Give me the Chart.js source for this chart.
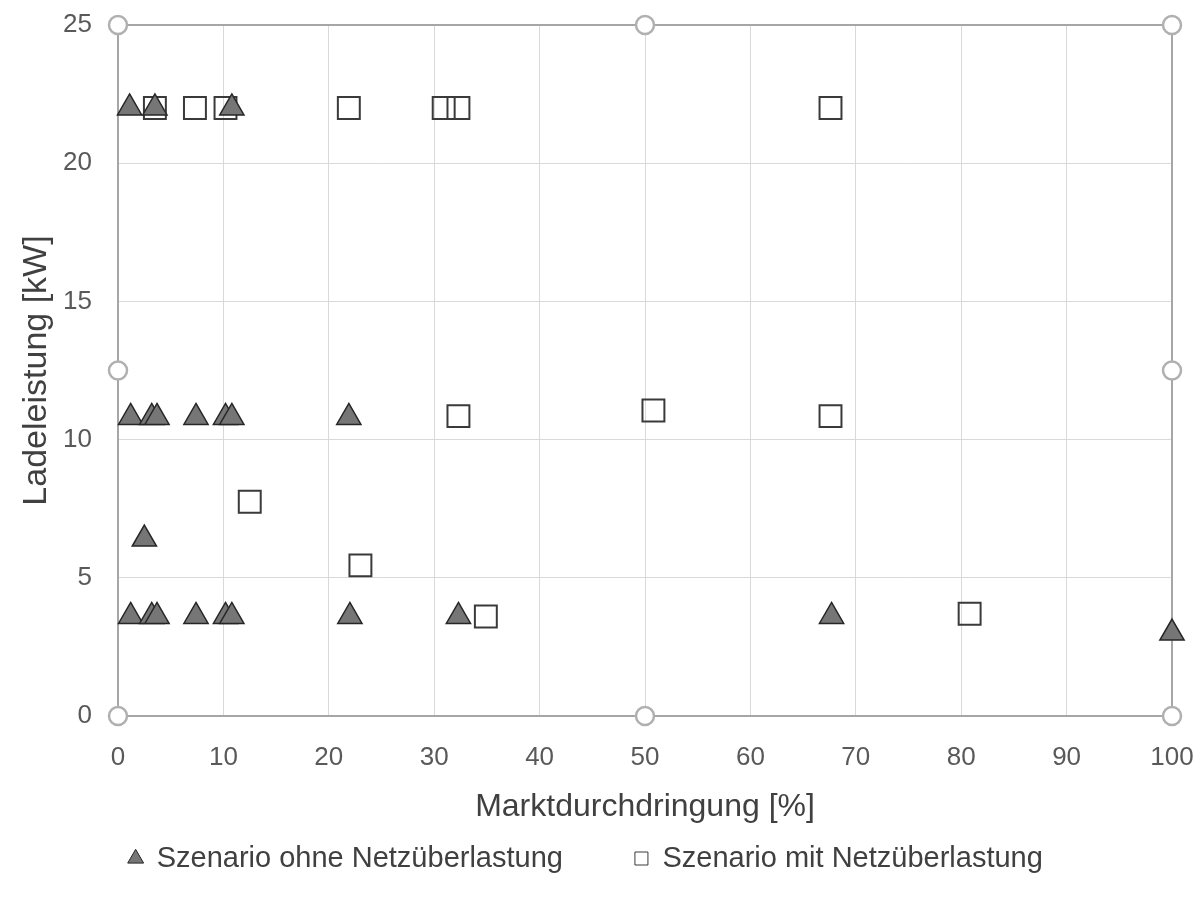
<!DOCTYPE html>
<html>
<head>
<meta charset="utf-8">
<script src="https://cdn.jsdelivr.net/npm/chart.js@4"></script>
<style>
  html, body { margin: 0; padding: 0; background: #fff; }
  #wrap { width: 1198px; height: 907px; }
</style>
</head>
<body>
<div id="wrap"><canvas id="chart"></canvas></div>
<script>
// Szenario ohne Netzüberlastung (triangles)
const ohneX = [1.1, 3.5, 10.8, 1.2, 3.2, 3.7, 7.4, 10.2, 10.8, 21.9, 2.5, 1.2, 3.2, 3.7, 7.4, 10.2, 10.8, 22.0, 32.3, 67.7, 100];
const ohneY = [22, 22, 22, 10.8, 10.8, 10.8, 10.8, 10.8, 10.8, 10.8, 6.4, 3.6, 3.6, 3.6, 3.6, 3.6, 3.6, 3.6, 3.6, 3.6, 3.0];

// Szenario mit Netzüberlastung (squares)
const mitX = [3.5, 7.3, 10.2, 21.9, 30.9, 32.3, 67.6, 32.3, 50.8, 67.6, 12.5, 23.0, 34.9, 80.8];
const mitY = [22, 22, 22, 22, 22, 22, 22, 10.85, 11.05, 10.85, 7.75, 5.45, 3.6, 3.7];

const xTicks = [0, 10, 20, 30, 40, 50, 60, 70, 80, 90, 100];
const yTicks = [0, 5, 10, 15, 20, 25];

const toPoints = (xs, ys) => xs.map((x, i) => ({ x: x, y: ys[i] }));

// plot frame + the selection handles around it
const frame = {
  id: 'frame',
  beforeDatasetsDraw(chart) {
    const a = chart.chartArea;
    const ctx = chart.ctx;
    ctx.save();
    ctx.strokeStyle = '#a6a6a6';
    ctx.lineWidth = 2;
    ctx.strokeRect(a.left, a.top, a.right - a.left, a.bottom - a.top);
    const mx = (a.left + a.right) / 2, my = (a.top + a.bottom) / 2;
    const handles = [[a.left, a.top], [mx, a.top], [a.right, a.top], [a.left, my], [a.right, my], [a.left, a.bottom], [mx, a.bottom], [a.right, a.bottom]];
    ctx.lineWidth = 2.5;
    ctx.strokeStyle = '#b0b0b0';
    handles.forEach(h => {
      ctx.beginPath();
      ctx.arc(h[0], h[1], 9, 0, Math.PI * 2);
      ctx.fillStyle = '#fff';
      ctx.fill();
      ctx.stroke();
    });
    ctx.restore();
  }
};

const tickFont = { family: 'Liberation Sans', size: 26 };

new Chart(document.getElementById('chart'), {
  type: 'scatter',
  data: {
    datasets: [
      {
        label: 'Szenario ohne Netzüberlastung',
        data: toPoints(ohneX, ohneY),
        pointStyle: 'triangle',
        pointRadius: 14,
        pointHoverRadius: 14,
        backgroundColor: '#767676',
        borderColor: '#262626',
        borderWidth: 1.5,
        clip: false
      },
      {
        label: 'Szenario mit Netzüberlastung',
        data: toPoints(mitX, mitY),
        pointStyle: 'rect',
        pointRadius: 15.5,
        pointHoverRadius: 15.5,
        backgroundColor: 'rgba(255,255,255,0)',
        borderColor: '#3a3a3a',
        borderWidth: 2,
        clip: false
      }
    ]
  },
  options: {
    responsive: true,
    maintainAspectRatio: false,
    animation: false,
    layout: { padding: { top: 25, right: 26, bottom: 24, left: 0 } },
    plugins: {
      tooltip: { enabled: false },
      legend: {
        position: 'bottom',
        labels: {
          usePointStyle: true,
          boxWidth: 13,
          boxHeight: 13,
          padding: 72,
          color: '#404040',
          font: { family: 'Liberation Sans', size: 29 },
          generateLabels(chart) {
            return chart.data.datasets.map((ds, i) => ({
              text: ds.label,
              pointStyle: ds.pointStyle,
              fillStyle: i === 0 ? '#767676' : '#fff',
              strokeStyle: i === 0 ? '#262626' : '#3a3a3a',
              lineWidth: 1,
              fontColor: '#404040',
              datasetIndex: i
            }));
          }
        }
      }
    },
    scales: {
      x: {
        type: 'linear',
        min: 0,
        max: 100,
        afterBuildTicks: s => { s.ticks = xTicks.map(v => ({ value: v })); },
        afterFit: s => { s.height = 56; s.paddingLeft = 0; s.paddingRight = 0; },
        grid: { color: '#d9d9d9', lineWidth: 1, drawTicks: false },
        border: { color: '#a6a6a6', width: 2 },
        ticks: { padding: 26, color: '#595959', font: tickFont },
        title: {
          display: true,
          text: 'Marktdurchdringung [%]',
          color: '#404040',
          font: { family: 'Liberation Sans', size: 32 },
          padding: { top: 0, bottom: -54 }
        }
      },
      y: {
        type: 'linear',
        min: 0,
        max: 25,
        afterBuildTicks: s => { s.ticks = yTicks.map(v => ({ value: v })); },
        afterFit: s => { s.width = 118; s.paddingTop = 0; s.paddingBottom = 0; },
        grid: { color: '#d9d9d9', lineWidth: 1, drawTicks: false },
        border: { color: '#a6a6a6', width: 2 },
        ticks: { padding: 26, color: '#595959', font: tickFont },
        title: {
          display: true,
          text: 'Ladeleistung [kW]',
          color: '#404040',
          font: { family: 'Liberation Sans', size: 34 },
          padding: { top: 16, bottom: 0 }
        }
      }
    }
  },
  plugins: [frame]
});
</script>
</body>
</html>
